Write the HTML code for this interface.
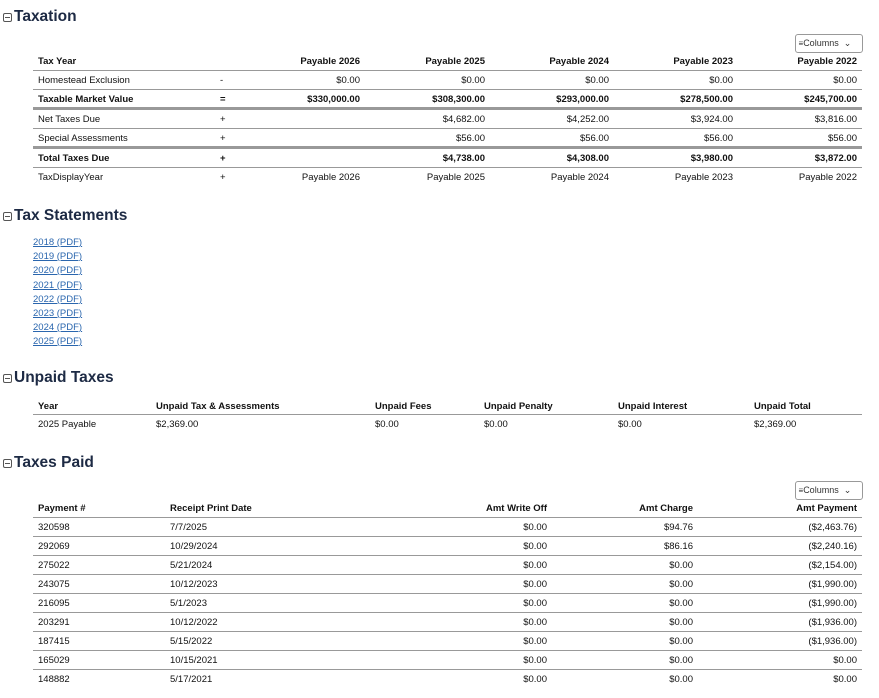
<!DOCTYPE html>
<html><head><meta charset="utf-8"><style>
body{margin:0;width:879px;height:698px;background:#fff;position:relative;overflow:hidden;font-family:"Liberation Sans",sans-serif;color:#111;font-size:9.5px}
div{position:absolute;white-space:nowrap;line-height:14px;height:14px}
div:not(.l):not(.t):not(.btn):not(.ic){margin-top:2px}
.h{font-size:15.5px;font-weight:bold;color:#1d2a44;line-height:20px;height:20px;left:14px}
.ic{width:7px;height:7px;border:1px solid #555;border-radius:2px;left:3px;margin-top:2px}
.ic:after{content:"";position:absolute;left:1px;right:1px;top:3px;height:1px;background:#555}
.b{font-weight:bold}
.r{text-align:right}
.l{height:0;border-top:1px solid #999;left:33px;width:829px}
.t{height:0;border-top:3px solid #999;left:33px;width:829px}
a{color:#2a66ae;text-decoration:underline}
.btn{border:1px solid #999;border-radius:3px;left:795px;width:66px;height:17px;line-height:16px;font-size:9px;color:#333}
</style></head><body>
<div class="ic" style="top:11px"></div><div class="h" style="top:5px">Taxation</div>
<div class="btn" style="top:34px">&nbsp;<span style="font-size:8px">≡</span>Columns&nbsp;&nbsp;⌄</div>
<div class="b" style="left:38px;top:53px">Tax Year</div>
<div class="b r" style="right:519px;top:53px">Payable 2026</div>
<div class="b r" style="right:394px;top:53px">Payable 2025</div>
<div class="b r" style="right:270px;top:53px">Payable 2024</div>
<div class="b r" style="right:146px;top:53px">Payable 2023</div>
<div class="b r" style="right:22px;top:53px">Payable 2022</div>
<div class="l" style="top:70px"></div>
<div style="left:38px;top:72px">Homestead Exclusion</div><div style="left:220px;top:72px">-</div>
<div class="r" style="right:519px;top:72px">$0.00</div><div class="r" style="right:394px;top:72px">$0.00</div><div class="r" style="right:270px;top:72px">$0.00</div><div class="r" style="right:146px;top:72px">$0.00</div><div class="r" style="right:22px;top:72px">$0.00</div>
<div class="l" style="top:89px"></div>
<div class="b" style="left:38px;top:91px">Taxable Market Value</div><div class="b" style="left:220px;top:91px">=</div>
<div class="b r" style="right:519px;top:91px">$330,000.00</div><div class="b r" style="right:394px;top:91px">$308,300.00</div><div class="b r" style="right:270px;top:91px">$293,000.00</div><div class="b r" style="right:146px;top:91px">$278,500.00</div><div class="b r" style="right:22px;top:91px">$245,700.00</div>
<div class="t" style="top:107px"></div>
<div style="left:38px;top:111px">Net Taxes Due</div><div style="left:220px;top:111px">+</div>
<div class="r" style="right:394px;top:111px">$4,682.00</div><div class="r" style="right:270px;top:111px">$4,252.00</div><div class="r" style="right:146px;top:111px">$3,924.00</div><div class="r" style="right:22px;top:111px">$3,816.00</div>
<div class="l" style="top:128px"></div>
<div style="left:38px;top:130px">Special Assessments</div><div style="left:220px;top:130px">+</div>
<div class="r" style="right:394px;top:130px">$56.00</div><div class="r" style="right:270px;top:130px">$56.00</div><div class="r" style="right:146px;top:130px">$56.00</div><div class="r" style="right:22px;top:130px">$56.00</div>
<div class="t" style="top:146px"></div>
<div class="b" style="left:38px;top:150px">Total Taxes Due</div><div class="b" style="left:220px;top:150px">+</div>
<div class="b r" style="right:394px;top:150px">$4,738.00</div><div class="b r" style="right:270px;top:150px">$4,308.00</div><div class="b r" style="right:146px;top:150px">$3,980.00</div><div class="b r" style="right:22px;top:150px">$3,872.00</div>
<div class="l" style="top:167px"></div>
<div style="left:38px;top:169px">TaxDisplayYear</div><div style="left:220px;top:169px">+</div>
<div class="r" style="right:519px;top:169px">Payable 2026</div><div class="r" style="right:394px;top:169px">Payable 2025</div><div class="r" style="right:270px;top:169px">Payable 2024</div><div class="r" style="right:146px;top:169px">Payable 2023</div><div class="r" style="right:22px;top:169px">Payable 2022</div>

<div class="ic" style="top:210px"></div><div class="h" style="top:204px">Tax Statements</div>
<div style="left:33px;top:234px"><a>2018 (PDF)</a></div>
<div style="left:33px;top:248px"><a>2019 (PDF)</a></div>
<div style="left:33px;top:262px"><a>2020 (PDF)</a></div>
<div style="left:33px;top:277px"><a>2021 (PDF)</a></div>
<div style="left:33px;top:291px"><a>2022 (PDF)</a></div>
<div style="left:33px;top:305px"><a>2023 (PDF)</a></div>
<div style="left:33px;top:319px"><a>2024 (PDF)</a></div>
<div style="left:33px;top:333px"><a>2025 (PDF)</a></div>

<div class="ic" style="top:372px"></div><div class="h" style="top:366px">Unpaid Taxes</div>
<div class="b" style="left:38px;top:398px">Year</div><div class="b" style="left:156px;top:398px">Unpaid Tax &amp; Assessments</div><div class="b" style="left:375px;top:398px">Unpaid Fees</div><div class="b" style="left:484px;top:398px">Unpaid Penalty</div><div class="b" style="left:618px;top:398px">Unpaid Interest</div><div class="b" style="left:754px;top:398px">Unpaid Total</div>
<div class="l" style="top:414px"></div>
<div style="left:38px;top:416px">2025 Payable</div><div style="left:156px;top:416px">$2,369.00</div><div style="left:375px;top:416px">$0.00</div><div style="left:484px;top:416px">$0.00</div><div style="left:618px;top:416px">$0.00</div><div style="left:754px;top:416px">$2,369.00</div>

<div class="ic" style="top:457px"></div><div class="h" style="top:451px">Taxes Paid</div>
<div class="btn" style="top:481px">&nbsp;<span style="font-size:8px">≡</span>Columns&nbsp;&nbsp;⌄</div>
<div class="b" style="left:38px;top:500px">Payment #</div><div class="b" style="left:170px;top:500px">Receipt Print Date</div>
<div class="b r" style="right:332px;top:500px">Amt Write Off</div><div class="b r" style="right:186px;top:500px">Amt Charge</div><div class="b r" style="right:22px;top:500px">Amt Payment</div>
<div class="l" style="top:517px"></div>
<div style="left:38px;top:519px">320598</div><div style="left:170px;top:519px">7/7/2025</div><div class="r" style="right:332px;top:519px">$0.00</div><div class="r" style="right:186px;top:519px">$94.76</div><div class="r" style="right:22px;top:519px">($2,463.76)</div>
<div class="l" style="top:536px"></div>
<div style="left:38px;top:538px">292069</div><div style="left:170px;top:538px">10/29/2024</div><div class="r" style="right:332px;top:538px">$0.00</div><div class="r" style="right:186px;top:538px">$86.16</div><div class="r" style="right:22px;top:538px">($2,240.16)</div>
<div class="l" style="top:555px"></div>
<div style="left:38px;top:557px">275022</div><div style="left:170px;top:557px">5/21/2024</div><div class="r" style="right:332px;top:557px">$0.00</div><div class="r" style="right:186px;top:557px">$0.00</div><div class="r" style="right:22px;top:557px">($2,154.00)</div>
<div class="l" style="top:574px"></div>
<div style="left:38px;top:576px">243075</div><div style="left:170px;top:576px">10/12/2023</div><div class="r" style="right:332px;top:576px">$0.00</div><div class="r" style="right:186px;top:576px">$0.00</div><div class="r" style="right:22px;top:576px">($1,990.00)</div>
<div class="l" style="top:593px"></div>
<div style="left:38px;top:595px">216095</div><div style="left:170px;top:595px">5/1/2023</div><div class="r" style="right:332px;top:595px">$0.00</div><div class="r" style="right:186px;top:595px">$0.00</div><div class="r" style="right:22px;top:595px">($1,990.00)</div>
<div class="l" style="top:612px"></div>
<div style="left:38px;top:614px">203291</div><div style="left:170px;top:614px">10/12/2022</div><div class="r" style="right:332px;top:614px">$0.00</div><div class="r" style="right:186px;top:614px">$0.00</div><div class="r" style="right:22px;top:614px">($1,936.00)</div>
<div class="l" style="top:631px"></div>
<div style="left:38px;top:633px">187415</div><div style="left:170px;top:633px">5/15/2022</div><div class="r" style="right:332px;top:633px">$0.00</div><div class="r" style="right:186px;top:633px">$0.00</div><div class="r" style="right:22px;top:633px">($1,936.00)</div>
<div class="l" style="top:650px"></div>
<div style="left:38px;top:652px">165029</div><div style="left:170px;top:652px">10/15/2021</div><div class="r" style="right:332px;top:652px">$0.00</div><div class="r" style="right:186px;top:652px">$0.00</div><div class="r" style="right:22px;top:652px">$0.00</div>
<div class="l" style="top:669px"></div>
<div style="left:38px;top:671px">148882</div><div style="left:170px;top:671px">5/17/2021</div><div class="r" style="right:332px;top:671px">$0.00</div><div class="r" style="right:186px;top:671px">$0.00</div><div class="r" style="right:22px;top:671px">$0.00</div>
</body></html>
